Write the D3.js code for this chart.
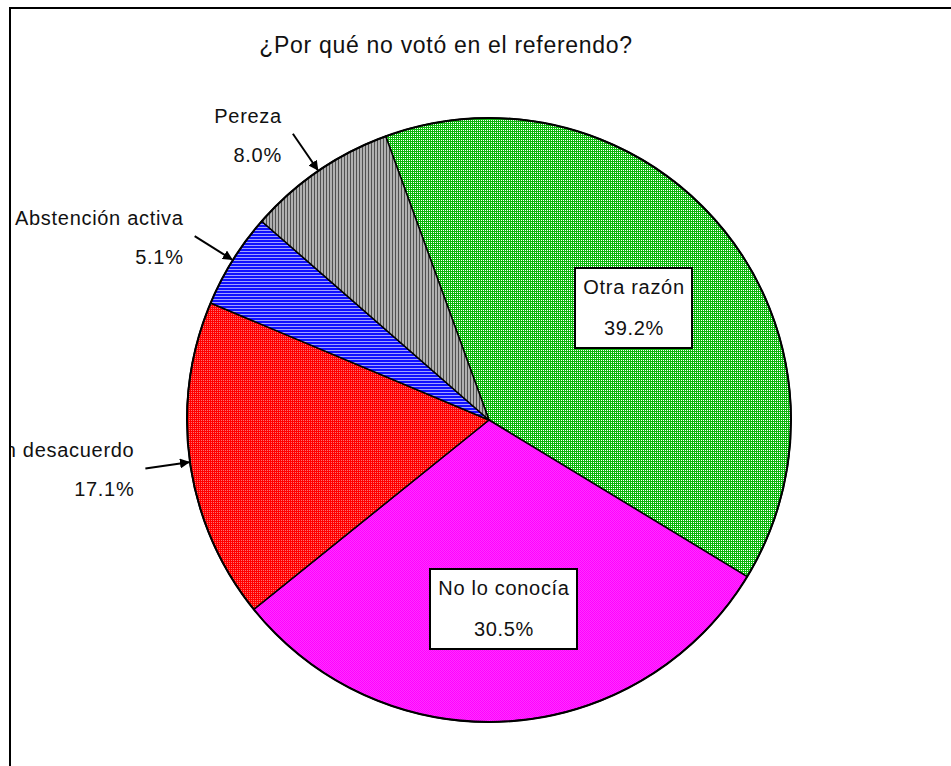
<!DOCTYPE html>
<html>
<head>
<meta charset="utf-8">
<script src="https://cdn.jsdelivr.net/npm/d3@7"></script>
<style>
  body { margin: 0; background: #fff; }
  svg { display: block; font-family: "Liberation Sans", Arial, sans-serif; }
</style>
</head>
<body>
<div id="chart"></div>
<script>
// Chart data
var categories = ["Otra razón", "No lo conocía", "En desacuerdo", "Abstención activa", "Pereza"];
var values = [39.2, 30.5, 17.1, 5.1, 8.0];
var valueLabels = ["39.2%", "30.5%", "17.1%", "5.1%", "8.0%"];
var patternIds = ["pat-green", "pat-magenta", "pat-red", "pat-blue", "pat-gray"];

var width = 951, height = 766;
var cx = 489, cy = 420, radius = 302;

var svg = d3.select("#chart").append("svg")
    .attr("width", width)
    .attr("height", height)
    .attr("shape-rendering", "crispEdges");

var defs = svg.append("defs");

// Fill patterns (old office-style dithered fills)
function tile(id, w, h, base, dots) {
    var p = defs.append("pattern").attr("id", id)
        .attr("patternUnits", "userSpaceOnUse").attr("width", w).attr("height", h);
    p.append("rect").attr("width", w).attr("height", h).attr("fill", base);
    dots.forEach(function(d) {
        p.append("rect").attr("x", d[0]).attr("y", d[1])
            .attr("width", d[2]).attr("height", d[3]).attr("fill", d[4]);
    });
}
tile("pat-green", 2, 2, "#0cb80c", [[0, 0, 1, 1, "#ffffff"]]);
tile("pat-magenta", 2, 2, "#ff00ff", [[0, 0, 1, 1, "#ff30ff"], [1, 1, 1, 1, "#ff30ff"]]);
tile("pat-red", 2, 2, "#ff0000", [[0, 0, 1, 1, "#ff7070"]]);
tile("pat-blue", 3, 3, "#1010ff", [[0, 2, 3, 1, "#a0a0ff"]]);
tile("pat-gray", 3, 3, "#b0b0b0", [[2, 0, 1, 3, "#505050"]]);

defs.append("marker").attr("id", "arrow")
    .attr("viewBox", "0 0 10 10").attr("refX", 9).attr("refY", 5)
    .attr("markerWidth", 5).attr("markerHeight", 5)
    .attr("markerUnits", "strokeWidth")
    .attr("orient", "auto")
    .append("path").attr("d", "M0,0L10,5L0,10Z").attr("fill", "#000")
    .attr("shape-rendering", "auto");

defs.append("clipPath").attr("id", "frame-clip")
    .append("rect").attr("x", 11).attr("y", 9).attr("width", width).attr("height", height);

// Frame
svg.append("rect")
    .attr("x", 10).attr("y", 8)
    .attr("width", width + 20).attr("height", height + 20)
    .attr("fill", "none").attr("stroke", "#000").attr("stroke-width", 2);

// Title
svg.append("text")
    .attr("x", 446).attr("y", 53)
    .attr("text-anchor", "middle")
    .attr("font-size", 23)
    .attr("letter-spacing", 0.7)
    .attr("fill", "#111")
    .text("¿Por qué no votó en el referendo?");

var data = categories.map(function(c, i) {
    return {name: c, value: values[i], label: valueLabels[i], fill: patternIds[i]};
});

var start = -20 * Math.PI / 180;
var pie = d3.pie().sort(null).value(function(d) { return d.value; })
    .startAngle(start).endAngle(start + 2 * Math.PI);
var arcs = pie(data);
var arc = d3.arc().innerRadius(0).outerRadius(radius);

var g = svg.append("g").attr("transform", "translate(" + cx + "," + cy + ")");

g.selectAll("path.slice")
    .data(arcs)
    .enter()
    .append("path")
    .attr("class", "slice")
    .attr("d", arc)
    .attr("fill", function(d) { return "url(#" + d.data.fill + ")"; })
    .attr("stroke", "#000")
    .attr("stroke-width", 1.5)
    .attr("stroke-linejoin", "round")
    .attr("shape-rendering", "auto");

// outer rim
g.append("circle").attr("r", radius).attr("fill", "none")
    .attr("stroke", "#000").attr("stroke-width", 2)
    .attr("shape-rendering", "auto");

var labels = svg.append("g").attr("clip-path", "url(#frame-clip)");
var fs = 20;

arcs.forEach(function(d) {
    var mid = (d.startAngle + d.endAngle) / 2;
    if (d.data.value > 20) {
        // boxed label inside the slice
        var r = radius * 0.61;
        var x = cx + Math.sin(mid) * r + 3, y = cy - Math.cos(mid) * r + 5;
        var box = labels.append("g").attr("transform", "translate(" + Math.round(x) + "," + Math.round(y) + ")");
        var rect = box.append("rect").attr("fill", "#fff").attr("stroke", "#000").attr("stroke-width", 2);
        var t1 = box.append("text").attr("text-anchor", "middle").attr("y", -21)
            .attr("dy", "0.35em").attr("font-size", fs).attr("letter-spacing", 0.7)
            .attr("fill", "#111").text(d.data.name);
        box.append("text").attr("text-anchor", "middle").attr("y", 20)
            .attr("dy", "0.35em").attr("font-size", fs).attr("letter-spacing", 0.7)
            .attr("fill", "#111").text(d.data.label);
        var bw = Math.round(t1.node().getComputedTextLength() + 16);
        rect.attr("x", -Math.round(bw / 2)).attr("y", -40).attr("width", bw).attr("height", 80);
    } else {
        // label outside with an arrow pointing at the rim
        var ex = cx + Math.sin(mid) * (radius + 1), ey = cy - Math.cos(mid) * (radius + 1);
        var sx = cx + Math.sin(mid) * (radius + 45), sy = cy - Math.cos(mid) * (radius + 45);
        labels.append("line")
            .attr("x1", sx).attr("y1", sy).attr("x2", ex).attr("y2", ey)
            .attr("stroke", "#000").attr("stroke-width", 2)
            .attr("shape-rendering", "auto")
            .attr("marker-end", "url(#arrow)");
        labels.append("text").attr("text-anchor", "end")
            .attr("x", sx - 11).attr("y", sy - 18).attr("dy", "0.35em")
            .attr("font-size", fs).attr("letter-spacing", 0.7).attr("fill", "#111")
            .text(d.data.name);
        labels.append("text").attr("text-anchor", "end")
            .attr("x", sx - 11).attr("y", sy + 21).attr("dy", "0.35em")
            .attr("font-size", fs).attr("letter-spacing", 0.7).attr("fill", "#111")
            .text(d.data.label);
    }
});
</script>
</body>
</html>
